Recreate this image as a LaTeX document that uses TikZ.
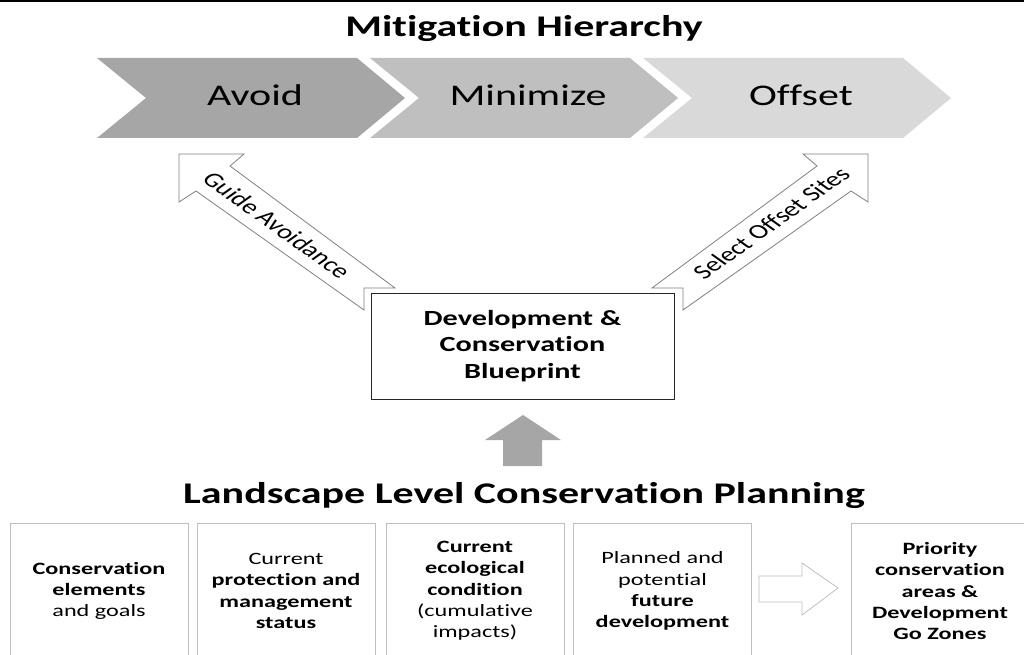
\documentclass[tikz,border=0pt]{standalone}
\usepackage{fontspec}
\setmainfont{Carlito}[FakeStretch=1.4, Ligatures=NoCommon]
\newfontfamily\arrowfont{Carlito}[Ligatures=NoCommon]
\usepackage{xcolor}
\usepackage{tikz}

\begin{document}
\begin{tikzpicture}[x=1pt, y=-1pt,
  heading/.style={font=\bfseries\fontsize{30}{36}\selectfont, anchor=base},
  chevtext/.style={font=\fontsize{30}{36}\selectfont, anchor=base},
  plan/.style={rectangle, draw=black!85, fill=white, minimum width=303pt,
    minimum height=106pt, align=center, font=\bfseries\fontsize{21.6}{26.5}\selectfont},
  input/.style={rectangle, draw=gray!50, line width=0.8pt, minimum width=178pt,
    minimum height=136pt, align=center, font=\fontsize{17.3}{21.3}\selectfont},
  bigarrow/.style={draw=black!50, fill=white, line width=0.8pt},
  along/.style={font=\arrowfont\fontsize{20.5}{24}\selectfont},
]
\useasboundingbox (0,0) rectangle (1024,655);
\draw[line width=1.5pt] (0,1) -- (1024,1);

\node[heading] (mitigation) at (524,37) {Mitigation Hierarchy};

% the three steps
\foreach \x/\shade/\name/\step in {97/gray!70/avoid/Avoid, 370/gray!50/minimize/Minimize, 643/gray!30/offset/Offset} {
  \fill[\shade] (\x,58) -- ++(260,0) -- ++(48,40) -- ++(-48,40) -- ++(-260,0) -- ++(49,-40) -- cycle;
  \node[chevtext] (\name) at (\x+158,106) {\step};
}

% block arrows up to the hierarchy
\draw[bigarrow] (179,154) -- (179,202) -- (196,191) -- (364,310) -- (364,288) -- (395,288) -- (230,166) -- (244,154) -- cycle;
\draw[bigarrow] (868,154) -- (868,202) -- (851,191) -- (683,310) -- (683,288) -- (652,288) -- (817,166) -- (803,154) -- cycle;
\node[along, cm={0.99,-0.707,0.99,0.707,(0,0)}] (guide) at (277,225) {Guide Avoidance};
\node[along, cm={0.99,0.707,-0.99,0.707,(0,0)}] (select) at (771,223) {Select Offset Sites};

\node[plan] (blueprint) at (522.5,346) {Development \&\\Conservation\\Blueprint};

\fill[gray!70] (523,415) -- (561,440) -- (542,440) -- (542,466) -- (503,466) -- (503,440) -- (485,440) -- cycle;

\node[heading] (landscape) at (524,503) {Landscape Level Conservation Planning};

% planning inputs
\node[input] (elements) at (99,591) {\textbf{Conservation}\\\textbf{elements}\\and goals};
\node[input] (status) at (286,591) {Current\\\textbf{protection and}\\\textbf{management}\\\textbf{status}};
\node[input] (condition) at (475,591) {\textbf{Current}\\\textbf{ecological}\\\textbf{condition}\\(cumulative\\impacts)};
\node[input] (future) at (662.5,591) {Planned and\\potential\\\textbf{future}\\\textbf{development}};
\node[input] (zones) at (940,591) {\textbf{Priority}\\\textbf{conservation}\\\textbf{areas \&}\\\textbf{Development}\\\textbf{Go Zones}};

\draw[draw=gray!50, fill=white, line width=0.8pt] (759,576) -- (802,576) -- (802,563) -- (838,588) -- (802,615) -- (802,602) -- (759,602) -- cycle;
\end{tikzpicture}
\end{document}
